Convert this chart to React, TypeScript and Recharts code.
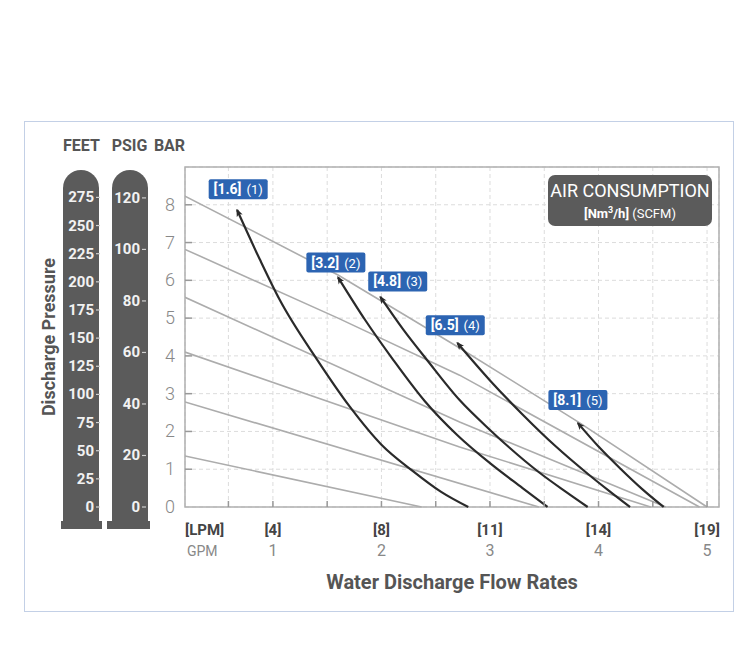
import React from 'react';
import {
  ComposedChart, Line, XAxis, YAxis, CartesianGrid, ReferenceArea, ReferenceDot
} from 'recharts';

const FONT = "Roboto, 'Liberation Sans', sans-serif";

// axes (flow in GPM, pressure in bar)
const X_MIN = 0.19;
const X_MAX = 5.11;
const xTicks = [X_MIN, 0.59, 1, 1.5, 2, 2.5, 3, 3.5, 4, 4.5, 5];
const gpmTicks = [1, 2, 3, 4, 5];
const lpmLabels = ['[4]', '[8]', '[11]', '[14]', '[19]'];
const barTicks = [0, 1, 2, 3, 4, 5, 6, 7, 8];
const psigTicks = [0, 20, 40, 60, 80, 100, 120];
const feetTicks = [0, 25, 50, 75, 100, 125, 150, 175, 200, 225, 250, 275];

// air consumption lines (gray)
const air1 = [[0.19, 8.23], [1.6, 6.14], [2.72, 4.21], [3.83, 2.22], [5.0, 0]];
const air2 = [[0.19, 6.82], [1.6, 5.0], [2.72, 3.49], [4.93, 0]];
const air3 = [[0.19, 5.55], [2.72, 2.25], [4.62, 0]];
const air4 = [[0.19, 4.1], [2.72, 1.59], [4.48, 0]];
const air5 = [[0.19, 2.78], [3.45, 0]];
const air6 = [[0.19, 1.35], [2.37, 0]];

// pump curves (black, arrow at first point)
const pump1 = [[0.67, 7.86], [0.88, 6.55], [1.06, 5.5], [1.41, 3.89], [1.71, 2.65], [2.0, 1.65], [2.29, 0.95], [2.55, 0.4], [2.8, 0]];
const pump2 = [[1.6, 6.08], [1.85, 4.95], [2.11, 3.89], [2.4, 2.8], [2.7, 1.9], [3.0, 1.16], [3.3, 0.5], [3.53, 0]];
const pump3 = [[1.99, 5.56], [2.2, 4.7], [2.42, 3.89], [2.72, 2.83], [3.0, 2.04], [3.46, 0.9], [3.7, 0.4], [3.9, 0]];
const pump4 = [[2.7, 4.34], [3.0, 3.35], [3.3, 2.45], [3.6, 1.62], [3.9, 0.88], [4.1, 0.42], [4.29, 0]];
const pump5 = [[3.81, 2.22], [4.0, 1.6], [4.2, 1.02], [4.4, 0.48], [4.6, 0]];

const airLines = [air1, air2, air3, air4, air5, air6];
const pumpCurves = [pump1, pump2, pump3, pump4, pump5];

// blue tags
const tagX = [0.68, 1.58, 2.15, 2.68, 3.81];
const tagY = [8.41, 6.47, 5.97, 4.81, 2.83];
const tagNm3 = ['[1.6]', '[3.2]', '[4.8]', '[6.5]', '[8.1]'];
const tagScfm = ['(1)', '(2)', '(3)', '(4)', '(5)'];

const toPts = (arr: number[][]) => arr.map(([x, y]) => ({ x, y }));

const XTick = (props: any) => {
  const { x, y, payload } = props;
  const v = payload.value;
  if (v === X_MIN) {
    return (
      <g fontFamily={FONT}>
        <text x={x} y={y + 28} fontSize={15} fontWeight="bold" fill="#444">[LPM]</text>
        <text x={x + 2} y={y + 49} fontSize={14} fill="#888">GPM</text>
      </g>
    );
  }
  const i = gpmTicks.indexOf(v);
  return (
    <g fontFamily={FONT}>
      <line x1={x} x2={x} y1={y - 6} y2={y} stroke="#999" strokeWidth={1.5} />
      {i >= 0 && (
        <>
          <text x={x} y={y + 28} textAnchor="middle" fontSize={15} fontWeight="bold" fill="#444">{lpmLabels[i]}</text>
          <text x={x} y={y + 49} textAnchor="middle" fontSize={16} fill="#888">{gpmTicks[i]}</text>
        </>
      )}
    </g>
  );
};

const BarTick = (props: any) => {
  const { x, y, payload } = props;
  return (
    <g>
      {payload.value > 0 && <line x1={x} x2={x + 7} y1={y} y2={y} stroke="#999" strokeWidth={1.5} />}
      <text x={x - 10} y={y + 6} textAnchor="end" fontSize={18} fill="#888" fontFamily={FONT} fontWeight={300}>
        {payload.value}
      </text>
    </g>
  );
};

const PillTick = (shift: number) => (props: any) => {
  const { x, y, payload } = props;
  const xr = x + shift;
  return (
    <g>
      <line x1={xr - 6} x2={xr - 2} y1={y} y2={y} stroke="#d0d0d0" strokeWidth={1.2} />
      <text x={xr - 8} y={y + 5} textAnchor="end" fontSize={15} fontWeight="bold" fill="#f2f2f2" fontFamily={FONT}>
        {payload.value}
      </text>
    </g>
  );
};

const headerLabel = (text: string, dx: number, extra?: string) => (p: any) => {
  const vb = p.viewBox;
  const cx = vb.x + vb.width / 2 + dx;
  return (
    <g fontFamily={FONT} fill="#555" fontWeight="bold">
      <text x={cx} y={151} textAnchor="middle" fontSize={16}>{text}</text>
      {extra && (
        <text x={55} y={vb.y + vb.height / 2} textAnchor="middle" fontSize={18}
          transform={`rotate(-90 55 ${vb.y + vb.height / 2})`}>{extra}</text>
      )}
    </g>
  );
};

const Tag = (i: number) => (p: any) => {
  const { cx, cy } = p;
  return (
    <g fontFamily={FONT}>
      <rect x={cx - 29.5} y={cy - 10} width={59} height={20} rx={2} fill="#2c64b2" />
      <text x={cx} y={cy + 5} textAnchor="middle" fill="#fff">
        <tspan fontSize={14} fontWeight="bold">{tagNm3[i]}</tspan>
        <tspan fontSize={13} dx={5}>{tagScfm[i]}</tspan>
      </text>
    </g>
  );
};

// invisible anchors so that the PSIG and FEET scales get items of their own
const psigAnchor = [{ x: X_MIN, y: 0 }, { x: X_MIN, y: 132 }];
const feetAnchor = [{ x: X_MIN, y: 0 }, { x: X_MIN, y: 302 }];

export default function App() {
  const pill = (left: number, plateLeft: number, plateW: number) => (
    <>
      <div style={{ position: 'absolute', left, top: 170, width: 36, height: 353, background: '#5b5b5b', borderRadius: '18px 18px 0 0' }} />
      <div style={{ position: 'absolute', left: plateLeft, top: 521, width: plateW, height: 8, background: '#5b5b5b' }} />
    </>
  );

  return (
    <div style={{ position: 'absolute', left: 0, top: 0, width: 750, height: 650, background: '#fff' }}>
      <div style={{ position: 'absolute', left: 24, top: 121, width: 710, height: 491, border: '1.5px solid #c3d0e6', boxSizing: 'border-box' }} />
      {pill(63, 61, 41)}
      {pill(112, 107, 43)}
      <div style={{ position: 'absolute', left: 0, top: 0 }}>
        <ComposedChart width={750} height={650} margin={{ top: 167, right: 31, bottom: 48, left: 60 }}>
          <defs>
            <marker id="arrowHead" viewBox="0 0 10 10" refX="8" refY="5" markerWidth="8" markerHeight="8"
              markerUnits="userSpaceOnUse" orient="auto-start-reverse">
              <path d="M0,1 L10,5 L0,9 L2.5,5 z" fill="#2a2a2a" />
            </marker>
          </defs>
          <CartesianGrid yAxisId="a_bar" xAxisId="gpm" stroke="#dcdcdc" strokeDasharray="4 3" />
          <XAxis xAxisId="gpm" type="number" dataKey="x" domain={[X_MIN, X_MAX]} ticks={xTicks} interval={0}
            allowDataOverflow tickSize={0} tickMargin={0} axisLine={false} tickLine={false} tick={<XTick />} height={95}
            label={(p: any) => (
              <text x={p.viewBox.x + p.viewBox.width / 2} y={589} textAnchor="middle" fontFamily={FONT}
                fontSize={20} fontWeight="bold" fill="#555">Water Discharge Flow Rates</text>
            )} />
          <YAxis yAxisId="a_bar" type="number" domain={[0, 9]} ticks={barTicks} interval={0} width={37}
            tickSize={0} tickMargin={0} axisLine={false} tickLine={false} tick={<BarTick />}
            label={headerLabel('BAR', 3)} />
          <YAxis yAxisId="b_psig" type="number" dataKey="y" domain={[0, 132]} ticks={psigTicks} interval={0} width={49}
            allowDataOverflow tickSize={0} tickMargin={0} axisLine={false} tickLine={false} tick={PillTick(0)}
            label={headerLabel('PSIG', 6)} />
          <YAxis yAxisId="c_feet" type="number" dataKey="y" domain={[0, 302]} ticks={feetTicks} interval={0} width={39}
            allowDataOverflow tickSize={0} tickMargin={0} axisLine={false} tickLine={false} tick={PillTick(3)}
            label={headerLabel('FEET', 2, 'Discharge Pressure')} />
          <Line xAxisId="gpm" yAxisId="b_psig" data={psigAnchor} dataKey="y" stroke="none" dot={false}
            activeDot={false} isAnimationActive={false} />
          <Line xAxisId="gpm" yAxisId="c_feet" data={feetAnchor} dataKey="y" stroke="none" dot={false}
            activeDot={false} isAnimationActive={false} />
          <ReferenceArea xAxisId="gpm" yAxisId="a_bar" x1={X_MIN} x2={X_MAX} y1={0} y2={9}
            fill="none" stroke="#b0b0b0" strokeWidth={1.5} />
          {airLines.map((a, i) => (
            <Line key={`air${i}`} xAxisId="gpm" yAxisId="a_bar" data={toPts(a)} dataKey="y" type="linear"
              stroke="#acacac" strokeWidth={1.6} dot={false} activeDot={false} isAnimationActive={false} />
          ))}
          {pumpCurves.map((c, i) => (
            <Line key={`pump${i}`} xAxisId="gpm" yAxisId="a_bar" data={toPts(c)} dataKey="y" type="monotone"
              stroke="#2a2a2a" strokeWidth={2.2} dot={false} activeDot={false} isAnimationActive={false}
              markerStart="url(#arrowHead)" />
          ))}
          {tagX.map((x, i) => (
            <ReferenceDot key={`tag${i}`} xAxisId="gpm" yAxisId="a_bar" x={x} y={tagY[i]} r={0} shape={Tag(i)} />
          ))}
        </ComposedChart>
      </div>
      <div style={{
        position: 'absolute', left: 548, top: 175, width: 164, height: 51, background: '#5b5b5b', borderRadius: 7,
        color: '#fff', textAlign: 'center', fontFamily: FONT
      }}>
        <div style={{ fontSize: 18, lineHeight: '20px', marginTop: 6 }}>AIR CONSUMPTION</div>
        <div style={{ fontSize: 13, lineHeight: '18px' }}>
          <b>[Nm<sup style={{ fontSize: 9 }}>3</sup>/h]</b> (SCFM)
        </div>
      </div>
    </div>
  );
}
